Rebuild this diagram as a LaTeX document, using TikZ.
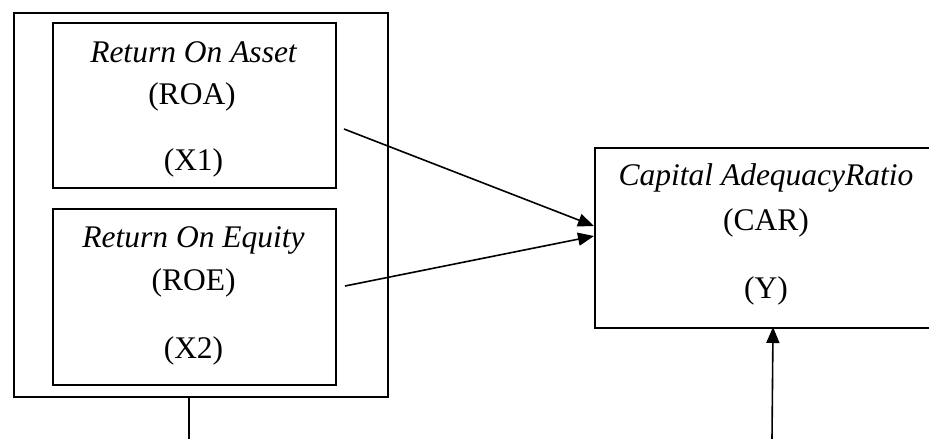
\documentclass[tikz,border=0pt]{standalone}
\usepackage{fontspec}
\setmainfont{Liberation Serif}
\usetikzlibrary{arrows.meta}
\begin{document}
\begin{tikzpicture}[x=1pt,y=-1pt,
  frame/.style={draw=black,line width=1.6pt,inner sep=0pt,anchor=north west},
  lbl/.style={anchor=base,inner sep=0pt,font=\fontsize{31.5}{36}\selectfont},
  conn/.style={line width=1.6pt,-{Triangle[length=16pt,width=13pt]}}]
\useasboundingbox (0,0) rectangle (929,439);
\clip (0,0) rectangle (929,439);
% outer frame
\node[frame,minimum width=374pt,minimum height=384pt] (outer) at (13,12) {};
% inner boxes
\node[frame,minimum width=283pt,minimum height=165pt] (roa) at (52,22) {};
\node[frame,minimum width=283pt,minimum height=176pt] (roe) at (52,208) {};
% right box
\node[frame,minimum width=346pt,minimum height=180pt] (car) at (594,147) {};
% texts
\node[lbl] (t1) at (193.5,62) {\itshape Return On Asset};
\node[lbl] (t2) at (192,104) {(ROA)};
\node[lbl] (t3) at (193.5,170) {(X1)};
\node[lbl] (t4) at (193.5,247) {\itshape Return On Equity};
\node[lbl] (t5) at (193.5,290) {(ROE)};
\node[lbl] (t6) at (193.5,358) {(X2)};
\node[lbl] (t7) at (766,185) {\itshape Capital AdequacyRatio};
\node[lbl] (t8) at (766,230) {(CAR)};
\node[lbl] (t9) at (766,298) {(Y)};
% connector end points
\coordinate (s1) at (344,129);
\coordinate (s2) at (345,286);
\coordinate (e1) at (594,226);
\coordinate (e2) at (594,236);
\coordinate (s3) at (772,439);
\coordinate (e3) at (773,327);
\coordinate (b1) at (189,439);
\draw[conn] (s1) -- (e1);
\draw[conn] (s2) -- (e2);
\draw[conn] (s3) -- (e3);
\draw[line width=1.6pt] (outer.south -| b1) -- (b1);
\end{tikzpicture}
\end{document}
